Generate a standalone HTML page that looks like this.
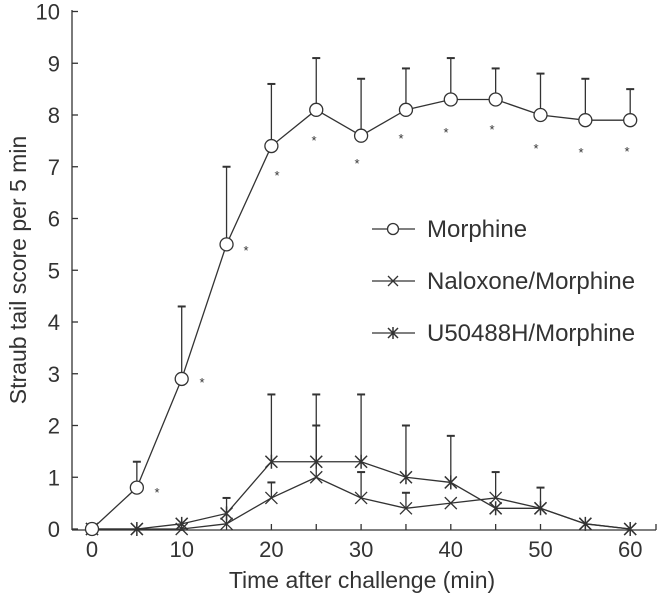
<!DOCTYPE html>
<html><head><meta charset="utf-8"><style>
html,body{margin:0;padding:0;background:#fff;}
svg{display:block;font-family:"Liberation Sans",Arial,sans-serif;}
</style></head><body>
<svg id="s" width="658" height="602" viewBox="0 0 658 602" xmlns="http://www.w3.org/2000/svg">
<text x="0" y="0" transform="translate(26,270) rotate(-90)" text-anchor="middle" font-size="23" fill="#333">Straub tail score per 5 min</text>
<text x="362" y="588" text-anchor="middle" font-size="23" fill="#333">Time after challenge (min)</text>
<g font-size="24" fill="#333">
<line x1="372" y1="229" x2="415" y2="229" stroke="#333" stroke-width="1.3"/>
<circle cx="393" cy="229" r="5.5" fill="#fff" stroke="#333" stroke-width="1.3"/>
<text x="427" y="237">Morphine</text>
<line x1="372" y1="281" x2="415" y2="281" stroke="#333" stroke-width="1.3"/>
<path d="M388 276 L398 286 M388 286 L398 276" stroke="#333" stroke-width="1.3"/>
<text x="427" y="289">Naloxone/Morphine</text>
<line x1="372" y1="333" x2="415" y2="333" stroke="#333" stroke-width="1.3"/>
<path d="M388 328 L398 338 M388 338 L398 328 M393 327 L393 339" stroke="#333" stroke-width="1.5"/>
<text x="427" y="341">U50488H/Morphine</text>
</g>
<g id="g"></g>
</svg>
<script>
var g=document.getElementById('g'),h='';
function X(t){return 92+t*8.97;}function Y(v){return 529-v*51.75;}
var st='stroke="#333" stroke-width="1.3" fill="none"';
h+='<line x1="72" y1="10" x2="72" y2="530" '+st+'/>';
h+='<line x1="72" y1="530" x2="656" y2="530" '+st+'/>';
for(var i=0;i<=10;i++){var y=Y(i);h+='<line x1="72" y1="'+y+'" x2="78" y2="'+y+'" '+st+'/>';
h+='<text x="60" y="'+(y+8)+'" text-anchor="end" font-size="22" fill="#333">'+i+'</text>';}
for(var t=0;t<=60;t+=5){var x=X(t);h+='<line x1="'+x+'" y1="530" x2="'+x+'" y2="524" '+st+'/>';
if(t%10==0)h+='<text x="'+x+'" y="557" text-anchor="middle" font-size="22" fill="#333">'+t+'</text>';}
h+='<line x1="656" y1="530" x2="656" y2="524" '+st+'/>';
var T=[0,5,10,15,20,25,30,35,40,45,50,55,60];
var M=[0,0.8,2.9,5.5,7.4,8.1,7.6,8.1,8.3,8.3,8.0,7.9,7.9];
var Me=[null,1.3,4.3,7.0,8.6,9.1,8.7,8.9,9.1,8.9,8.8,8.7,8.5];
var N=[0,0,0,0.1,0.6,1.0,0.6,0.4,0.5,0.6,0.4,0.1,0];
var Ne=[null,null,null,0.6,0.9,2.0,1.1,0.7,null,1.1,null,null,null];
var U=[0,0,0.1,0.3,1.3,1.3,1.3,1.0,0.9,0.4,0.4,0.1,0];
var Ue=[null,null,null,null,2.6,2.6,2.6,2.0,1.8,null,0.8,null,null];
function bars(v,e){for(var i=0;i<T.length;i++)if(e[i]!=null){var x=X(T[i]);h+='<line x1="'+x+'" y1="'+Y(v[i])+'" x2="'+x+'" y2="'+Y(e[i])+'" '+st+'/><line x1="'+(x-4)+'" y1="'+Y(e[i])+'" x2="'+(x+4)+'" y2="'+Y(e[i])+'" stroke="#333" stroke-width="2"/>';}}
function line(v){var p='';for(var i=0;i<T.length;i++)p+=(i?'L':'M')+X(T[i])+' '+Y(v[i]);h+='<path d="'+p+'" '+st+'/>';}
bars(N,Ne);bars(U,Ue);bars(M,Me);
line(N);line(U);line(M);
for(var i=0;i<T.length;i++){var x=X(T[i]),y;
y=Y(N[i]);h+='<path d="M'+(x-6)+' '+(y-6)+'L'+(x+6)+' '+(y+6)+'M'+(x-6)+' '+(y+6)+'L'+(x+6)+' '+(y-6)+'" '+st+'/>';
y=Y(U[i]);h+='<path d="M'+(x-6)+' '+(y-6)+'L'+(x+6)+' '+(y+6)+'M'+(x-6)+' '+(y+6)+'L'+(x+6)+' '+(y-6)+'M'+x+' '+(y-7)+'L'+x+' '+(y+7)+'" stroke="#333" stroke-width="1.5" fill="none"/>';
h+='<circle cx="'+x+'" cy="'+Y(M[i])+'" r="6.5" fill="#fff" stroke="#333" stroke-width="1.3"/>';}
var S=[[157,490],[202,380],[246,248],[277,173],[314,138],[357,161],[401,136],[446,130],[492,127],[536,146],[581,150],[627,149]];
S.forEach(function(s){h+='<text x="'+s[0]+'" y="'+(s[1]+7)+'" text-anchor="middle" font-size="13" fill="#333">*</text>';});
g.innerHTML=h;
</script>
</body></html>
